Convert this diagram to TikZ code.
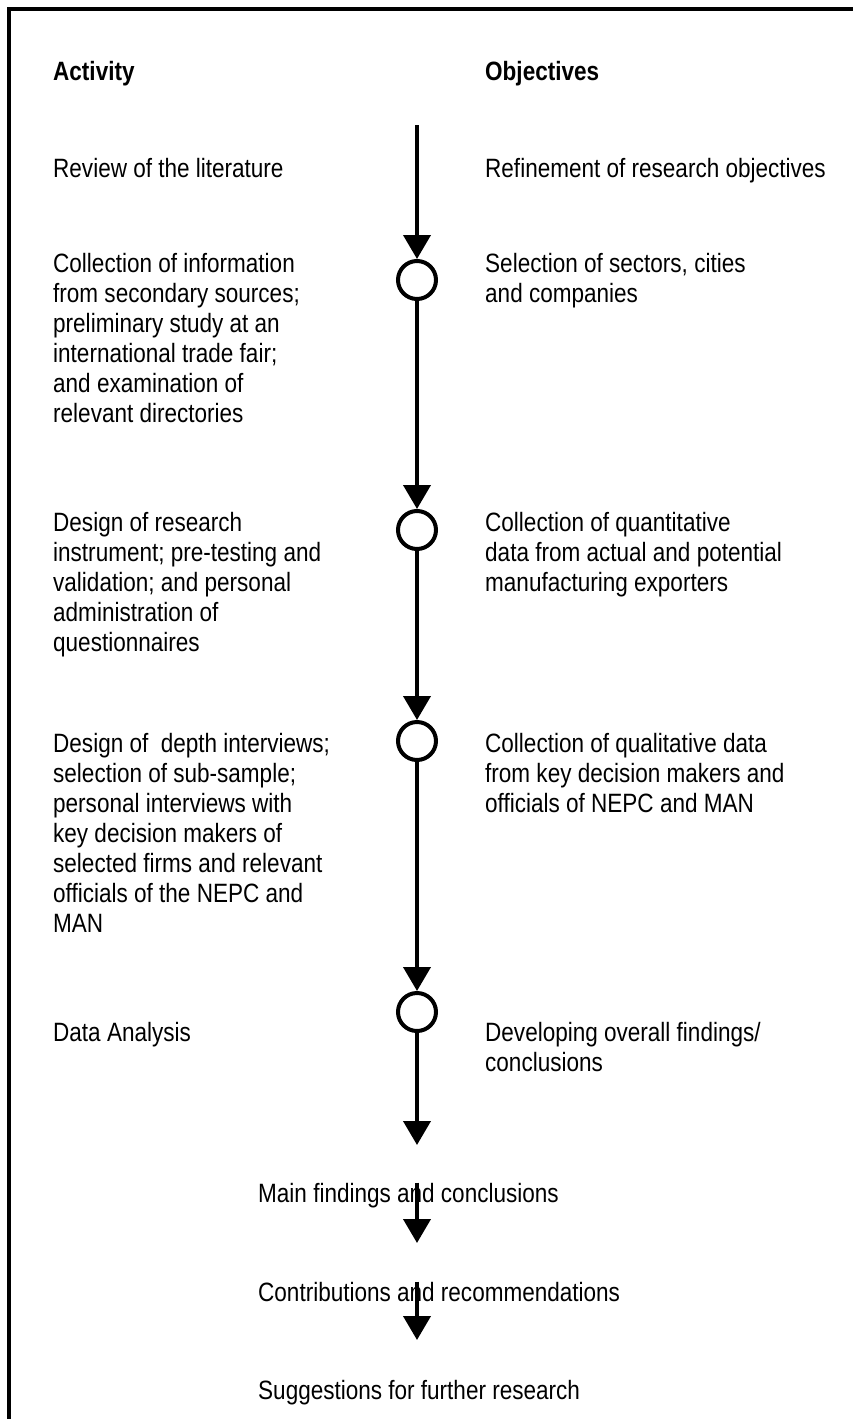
\documentclass[tikz,border=0pt]{standalone}
\usepackage{fontspec}
\setmainfont{Liberation Sans}[FakeStretch=0.85]
\usetikzlibrary{arrows.meta}
\begin{document}
\begin{tikzpicture}[x=1pt,y=-1pt,
  txt/.style={anchor=base west, inner sep=0pt, align=flush left,
    font=\fontsize{26.5}{30}\selectfont},
  block/.style={txt, text width=360pt},
  hdr/.style={txt, font=\fontsize{26.5}{30}\selectfont\bfseries},
  stage/.style={circle, draw, line width=4pt, minimum size=38pt,
    inner sep=0pt, fill=white},
  flow/.style={line width=4pt, -{Triangle[length=24pt,width=27pt]}},
  frameline/.style={line width=4pt}]
\useasboundingbox (0,0) rectangle (853,1419);

% frame (top and left rules)
\draw[frameline] (9,7) -- (9,1419);
\draw[frameline] (7,9) -- (853,9);

% column headings
\node[hdr] (act) at (53,80) {Activity};
\node[hdr] (obj) at (485,80) {Objectives};

% stage markers on the main axis
\coordinate (start) at (417,125);
\node[stage] (c1) at (417,280) {};
\node[stage] (c2) at (417,530) {};
\node[stage] (c3) at (417,741) {};
\node[stage] (c4) at (417,1012) {};
\coordinate (finish) at (417,1145);

% activities
\node[txt] (a0) at (53,177) {Review of the literature};
\node[block] (a1) at (53,272) {Collection of information\\from secondary sources;\\preliminary study at an\\international trade fair;\\and examination of\\relevant directories};
\node[block] (a2) at (53,531) {Design of research\\instrument; pre-testing and\\validation; and personal\\administration of\\questionnaires};
\node[block] (a3) at (53,752) {Design of \ depth interviews;\\selection of sub-sample;\\personal interviews with\\key decision makers of\\selected firms and relevant\\officials of the NEPC and\\MAN};
\node[txt] (a4) at (53,1041) {Data Analysis};

% objectives
\node[txt] (o0) at (485,177) {Refinement of research objectives};
\node[block] (o1) at (485,272) {Selection of sectors, cities\\and companies};
\node[block] (o2) at (485,531) {Collection of quantitative\\data from actual and potential\\manufacturing exporters};
\node[block] (o3) at (485,752) {Collection of qualitative data\\from key decision makers and\\officials of NEPC and MAN};
\node[block] (o4) at (485,1041) {Developing overall findings/\\conclusions};

% outcomes
\node[txt] (r1) at (258,1202) {Main findings and conclusions};
\node[txt] (r2) at (258,1301) {Contributions and recommendations};
\node[txt] (r3) at (258,1399) {Suggestions for further research};
\coordinate (t1) at (417,1243);
\coordinate (t2) at (417,1340);

% main flow
\draw[flow] (start) -- (c1);
\draw[flow] (c1) -- (c2);
\draw[flow] (c2) -- (c3);
\draw[flow] (c3) -- (c4);
\draw[flow] (c4) -- (finish);
\draw[flow] (r1.north -| c4) -- (t1);
\draw[flow] (r2.north -| c4) -- (t2);
\end{tikzpicture}
\end{document}
